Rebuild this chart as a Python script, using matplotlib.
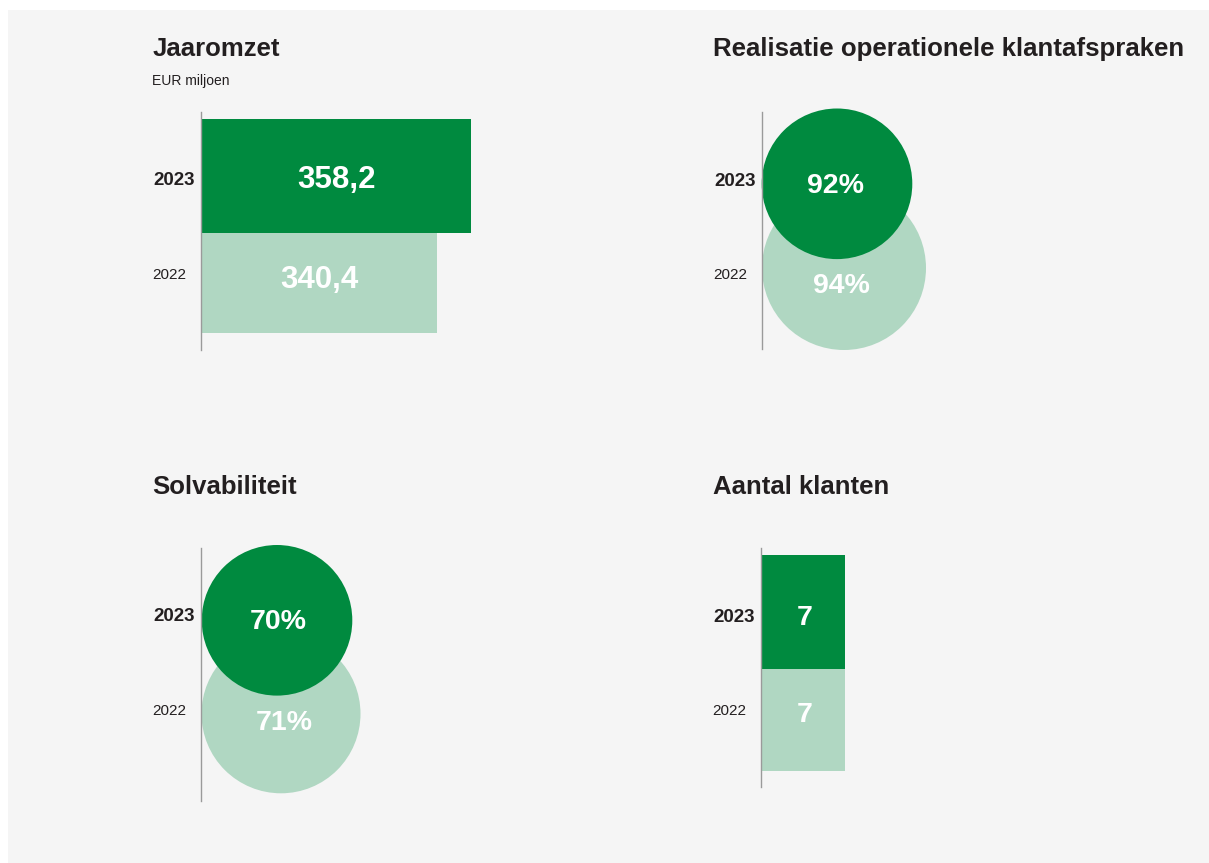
import matplotlib
matplotlib.use("Agg")
import matplotlib.pyplot as plt
from matplotlib.patches import Rectangle, Circle
from matplotlib.transforms import offset_copy

# ---------------- data ----------------
years = ["2023", "2022"]
jaaromzet = [358.2, 340.4]          # EUR miljoen
realisatie = [92, 94]               # %
solvabiliteit = [70, 71]            # %
aantal_klanten = [7, 7]

titles = ["Jaaromzet", "Realisatie operationele klantafspraken",
          "Solvabiliteit", "Aantal klanten"]
subtitle = "EUR miljoen"

# ---------------- style ----------------
W, H = 1209, 863
DARK = "#008A3F"
LIGHT = "#B0D7C2"
TXT = "#231F20"
BG = "#F5F5F5"
AXC = "#9A9A9A"
FONT = "Liberation Sans"
colors = [DARK, LIGHT]

plt.rcParams["font.family"] = [FONT, "DejaVu Sans"]

fig = plt.figure(figsize=(W / 100, H / 100), dpi=100)
fig.patch.set_facecolor("white")
fig.add_artist(Rectangle((8 / W, 0), 1 - 8 / W, 1 - 10 / H,
                         transform=fig.transFigure, facecolor=BG,
                         edgecolor="none", zorder=-10))


def make_axes(x0, y0, x1, y1):
    ax = fig.add_axes([x0 / W, 1 - y1 / H, (x1 - x0) / W, (y1 - y0) / H])
    ax.patch.set_alpha(0)
    for s in ("top", "right", "bottom"):
        ax.spines[s].set_visible(False)
    ax.spines["left"].set_color(AXC)
    ax.spines["left"].set_linewidth(1.0)
    ax.spines["left"].set_zorder(5)
    ax.set_xticks([])
    ax.set_yticks([])
    return ax


def year_labels(ax, ys=(73.2, 166.5)):
    for i, (yr, y) in enumerate(zip(years, ys)):
        off = -6 if i == 0 else -15
        tr = offset_copy(ax.get_yaxis_transform(), fig=fig, x=off, y=0, units="dots")
        ax.text(0, y, yr, transform=tr, ha="right", va="baseline",
                fontsize=13.5 if i == 0 else 11,
                fontweight="bold" if i == 0 else "normal", color=TXT)


def value_label(ax, x, y, s, size=21):
    ax.text(x, y, s, ha="center", va="baseline", fontsize=size,
            fontweight="bold", color="white", zorder=10)


# titles
fig.text(152.5 / W, 1 - 56 / H, titles[0], fontsize=18.5, fontweight="bold",
         color=TXT, va="baseline", ha="left")
fig.text(152.5 / W, 1 - 85 / H, subtitle, fontsize=10, color=TXT,
         va="baseline", ha="left")
fig.text(713 / W, 1 - 56 / H, titles[1], fontsize=18.6, fontweight="bold",
         color=TXT, va="baseline", ha="left")
fig.text(152.5 / W, 1 - 493.5 / H, titles[2], fontsize=18.5, fontweight="bold",
         color=TXT, va="baseline", ha="left")
fig.text(713 / W, 1 - 493.5 / H, titles[3], fontsize=18.5, fontweight="bold",
         color=TXT, va="baseline", ha="left")

# ---------- Panel 1: Jaaromzet (bars) ----------
AXIS_START = 218.0
PX_PER_UNIT = 1.927
ax1 = make_axes(201, 112, 560, 350)
ax1.set_ylim(238, 0)
ax1.set_xlim(AXIS_START, AXIS_START + 359 / PX_PER_UNIT)
bar_y = [63.85, 171.0]
bar_h = [113.7, 100.6]
ax1.barh(bar_y, [v - AXIS_START for v in jaaromzet], left=AXIS_START,
         height=bar_h, color=colors, zorder=2)
for v, yb in zip(jaaromzet, [75.5, 176.0]):
    value_label(ax1, (AXIS_START + v) / 2, yb, f"{v:.1f}".replace(".", ","), size=22.5)
year_labels(ax1)

# ---------- Panel 4: Aantal klanten (bars) ----------
ax4 = make_axes(761.3, 548.3, 1061.3, 786.7)
ax4.set_ylim(238.4, 0)
ax4.set_xlim(0, 300 / 11.96)
ax4.barh([63.55, 171.4], aantal_klanten, height=[113.7, 102.0],
         color=colors, zorder=2)
for v, yb in zip(aantal_klanten, [76.7, 173.4]):
    value_label(ax4, v / 2 + 0.1, yb, f"{v}", size=20.5)
year_labels(ax4)


# ---------- circle panels ----------
def circle_panel(box, values, centers, radii, text_pos):
    x0, y0, x1, y1 = box
    ax = make_axes(x0, y0, x1, y1)
    ax.set_xlim(0, x1 - x0)
    ax.set_ylim(y1 - y0, 0)
    # 2022 (light) underneath, 2023 (dark) on top
    for i in (1, 0):
        ax.add_patch(Circle(centers[i], radii[i], facecolor=colors[i],
                            edgecolor="none", clip_on=False, zorder=2 + (1 - i)))
    for v, (tx, ty) in zip(values, text_pos):
        value_label(ax, tx, ty, f"{v}%", size=20.5)
    year_labels(ax)
    return ax


circle_panel((762, 112.3, 1062, 349.3), realisatie,
             centers=[(75, 71.5), (82, 155.7)], radii=[75.3, 82.0],
             text_pos=[(74, 80.6), (79.5, 180.8)])

circle_panel((201, 548, 501, 800.7), solvabiliteit,
             centers=[(76, 72.3), (80, 165.8)], radii=[75.3, 79.5],
             text_pos=[(77.5, 80.9), (83.5, 182.2)])

fig.savefig("out.png", dpi=100, facecolor=fig.get_facecolor())
